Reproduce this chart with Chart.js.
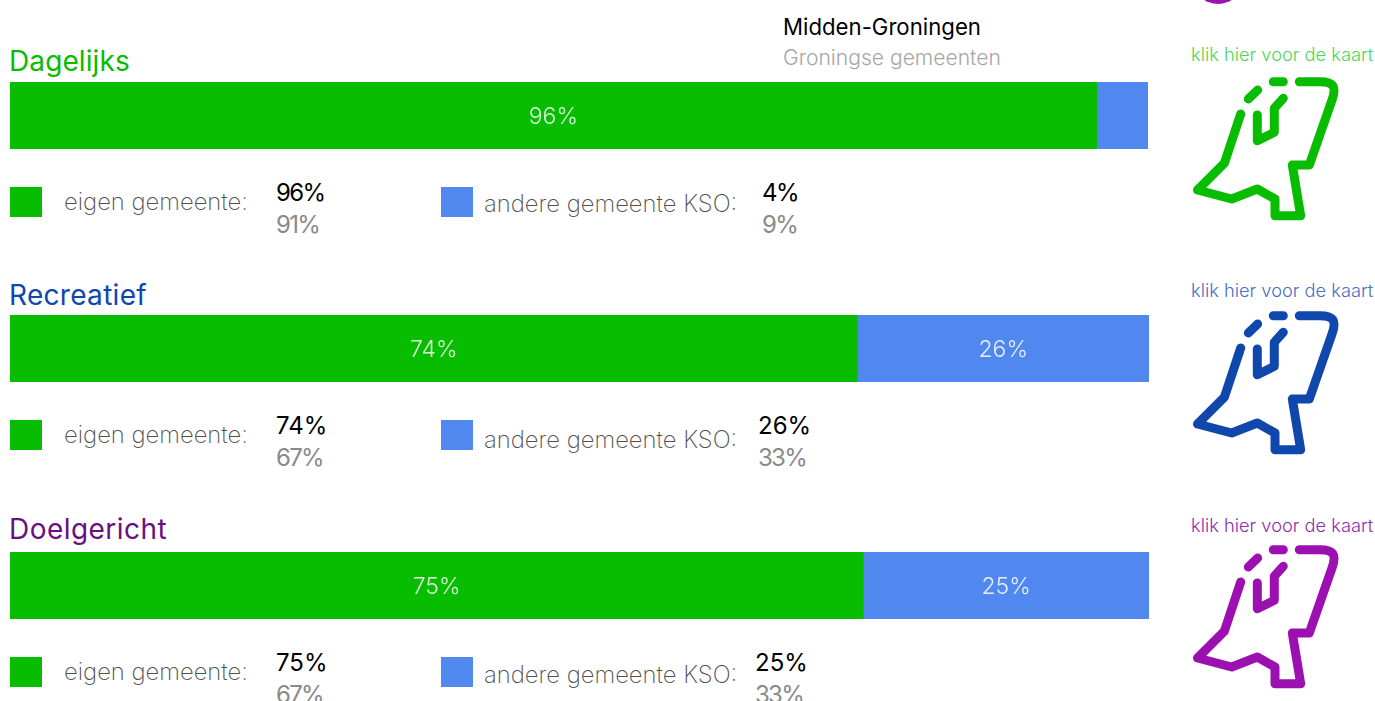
<!DOCTYPE html>
<html lang="nl">
<head>
<meta charset="utf-8">
<title>Dagelijks, recreatief, doelgericht</title>
<script src="https://cdn.jsdelivr.net/npm/chart.js@4"></script>
<style>
  html, body { margin: 0; padding: 0; background: #fff; }
  body { position: relative; width: 1375px; height: 701px; overflow: hidden; font-family: Inter, sans-serif; }
  .txt { position: absolute; white-space: nowrap; line-height: 1; transform: translateY(-50%); }
  .swatch { position: absolute; width: 32px; height: 30px; }
  canvas { position: absolute; }
  svg { position: absolute; left: 1170px; width: 205px; height: 240px; }
</style>
</head>
<body>
<script>
const categories = ["Dagelijks", "Recreatief", "Doelgericht"];
const eigenValues = [95.5, 74.4, 74.9];
const andereValues = [4.5, 25.6, 25.1];
const eigenLabels = ["96%", "74%", "75%"];
const andereLabels = ["4%", "26%", "25%"];
const groningenEigen = ["91%", "67%", "67%"];
const groningenAndere = ["9%", "33%", "33%"];

const GREEN = "#08bc00";
const BLUE = "#5088ef";
const titleColors = ["#08bc00", "#0f47ad", "#6a0f80"];
const linkColors = ["#4cd65a", "#4a70c8", "#8e2fa8"];
const iconColors = ["#08bc00", "#0f47ad", "#9c0fb0"];

// layout of each block, all taken off the screenshot
const barTop = [82, 315, 552];
const barWidth = [1138, 1139, 1139];
const titleY = [61, 295, 529];
const titleSpacing = [0.1, 0.3, 0.45];
const swatchTop = [187, 420, 657];
const eigenTextY = [202, 435, 672];
const andereTextY = [204, 440, 675];
const valueY = [192.5, 426, 663];
const subValueY = [225, 458, 695];
const valueSpacing = [-1.6, 0, 0];
const andereValueX = [762, 758, 755];
const linkY = [54, 290, 525];
const iconTop = [0, 234, 468];

function addText(text, x, y, size, color, weight, spacing) {
  const el = document.createElement("div");
  el.className = "txt";
  el.textContent = text;
  el.style.left = x + "px";
  el.style.top = y + "px";
  el.style.fontSize = size + "px";
  el.style.color = color;
  el.style.fontWeight = weight || 300;
  if (spacing) el.style.letterSpacing = spacing + "px";
  document.body.appendChild(el);
}

function addSwatch(x, y, color) {
  const el = document.createElement("div");
  el.className = "swatch";
  el.style.left = x + "px";
  el.style.top = y + "px";
  el.style.background = color;
  document.body.appendChild(el);
}

function addIcon(top, color) {
  const svg = `<svg style="top:${top}px" viewBox="0 0 205 240" fill="none" stroke="${color}" stroke-width="9" stroke-linecap="round" stroke-linejoin="round">
    <path d="M70.7 114 L54.3 163.3 L27.5 190 L61.7 199 L87.3 189 L105 199 L105 215.7 L130.7 215.7 L122.3 165 L139.3 165 L162 100 C167 86 163 81.7 150 81.7 L129.3 81.7"/>
    <path d="M87.3 115 L87.3 140.7 L104.3 132.3 L104.3 108.3 L113.3 98.3"/>
    <path d="M78.3 99 L87.7 90"/>
    <path d="M103.3 81.7 L113.3 81.7"/>
  </svg>`;
  document.body.insertAdjacentHTML("beforeend", svg);
}

// writes the percentage in the middle of a bar segment
const barLabels = {
  id: "barLabels",
  afterDatasetsDraw(chart) {
    const c = chart.ctx;
    c.save();
    c.font = "300 23px Inter, sans-serif";
    c.fillStyle = "rgba(255,255,255,0.85)";
    c.textAlign = "center";
    c.textBaseline = "middle";
    chart.data.datasets.forEach((dataset, i) => {
      if (!dataset.barText) return;
      const bar = chart.getDatasetMeta(i).data[0];
      c.fillText(dataset.barText, (bar.base + bar.x) / 2, bar.y + 2);
    });
    c.restore();
  }
};

function drawBar(i) {
  const canvas = document.createElement("canvas");
  canvas.width = barWidth[i];
  canvas.height = 67;
  canvas.style.left = "10px";
  canvas.style.top = barTop[i] + "px";
  canvas.style.width = barWidth[i] + "px";
  canvas.style.height = "67px";
  document.body.appendChild(canvas);

  new Chart(canvas.getContext("2d"), {
    type: "bar",
    data: {
      labels: [categories[i]],
      datasets: [
        { label: "eigen gemeente", data: [eigenValues[i]], backgroundColor: GREEN, barText: eigenLabels[i] },
        // the 4% segment is too narrow to carry a label
        { label: "andere gemeente KSO", data: [andereValues[i]], backgroundColor: BLUE, barText: andereValues[i] > 10 ? andereLabels[i] : "" }
      ]
    },
    options: {
      indexAxis: "y",
      responsive: false,
      animation: false,
      layout: { padding: 0 },
      datasets: { bar: { barPercentage: 1, categoryPercentage: 1, borderWidth: 0 } },
      scales: {
        x: { stacked: true, display: false, min: 0, max: 100 },
        y: { stacked: true, display: false }
      },
      plugins: { legend: { display: false }, tooltip: { enabled: false } }
    },
    plugins: [barLabels]
  });
}

// header
addText("Midden-Groningen", 783, 27, 22.2, "#000", 400);
addText("Groningse gemeenten", 783, 58, 21.1, "#a6a6a6", 300);

// clipped round icon at the very top
document.body.insertAdjacentHTML("beforeend",
  '<div style="position:absolute;left:1193px;top:-46px;width:50px;height:50px;border-radius:50%;background:#9c0fb0"></div>');

categories.forEach((name, i) => {
  addText(name, 9, titleY[i], 28, titleColors[i], 400, titleSpacing[i]);
  drawBar(i);

  addSwatch(10, swatchTop[i], GREEN);
  addText("eigen gemeente:", 64, eigenTextY[i], 23.8, "#505050", 200);
  addText(eigenLabels[i], 276, valueY[i], 24, "#000", 400, valueSpacing[i]);
  addText(groningenEigen[i], 276, subValueY[i], 24, "#8a8a8a", 400, -1.7);

  addSwatch(441, swatchTop[i], BLUE);
  addText("andere gemeente KSO:", 484, andereTextY[i], 23.8, "#505050", 200);
  addText(andereLabels[i], andereValueX[i], valueY[i], 24, "#000", 400, valueSpacing[i]);
  addText(groningenAndere[i], andereValueX[i], subValueY[i], 24, "#8a8a8a", 400, -1.7);

  addText("klik hier voor de kaart", 1191, linkY[i], 18.3, linkColors[i], 300);
  addIcon(iconTop[i], iconColors[i]);
});
</script>
</body>
</html>
